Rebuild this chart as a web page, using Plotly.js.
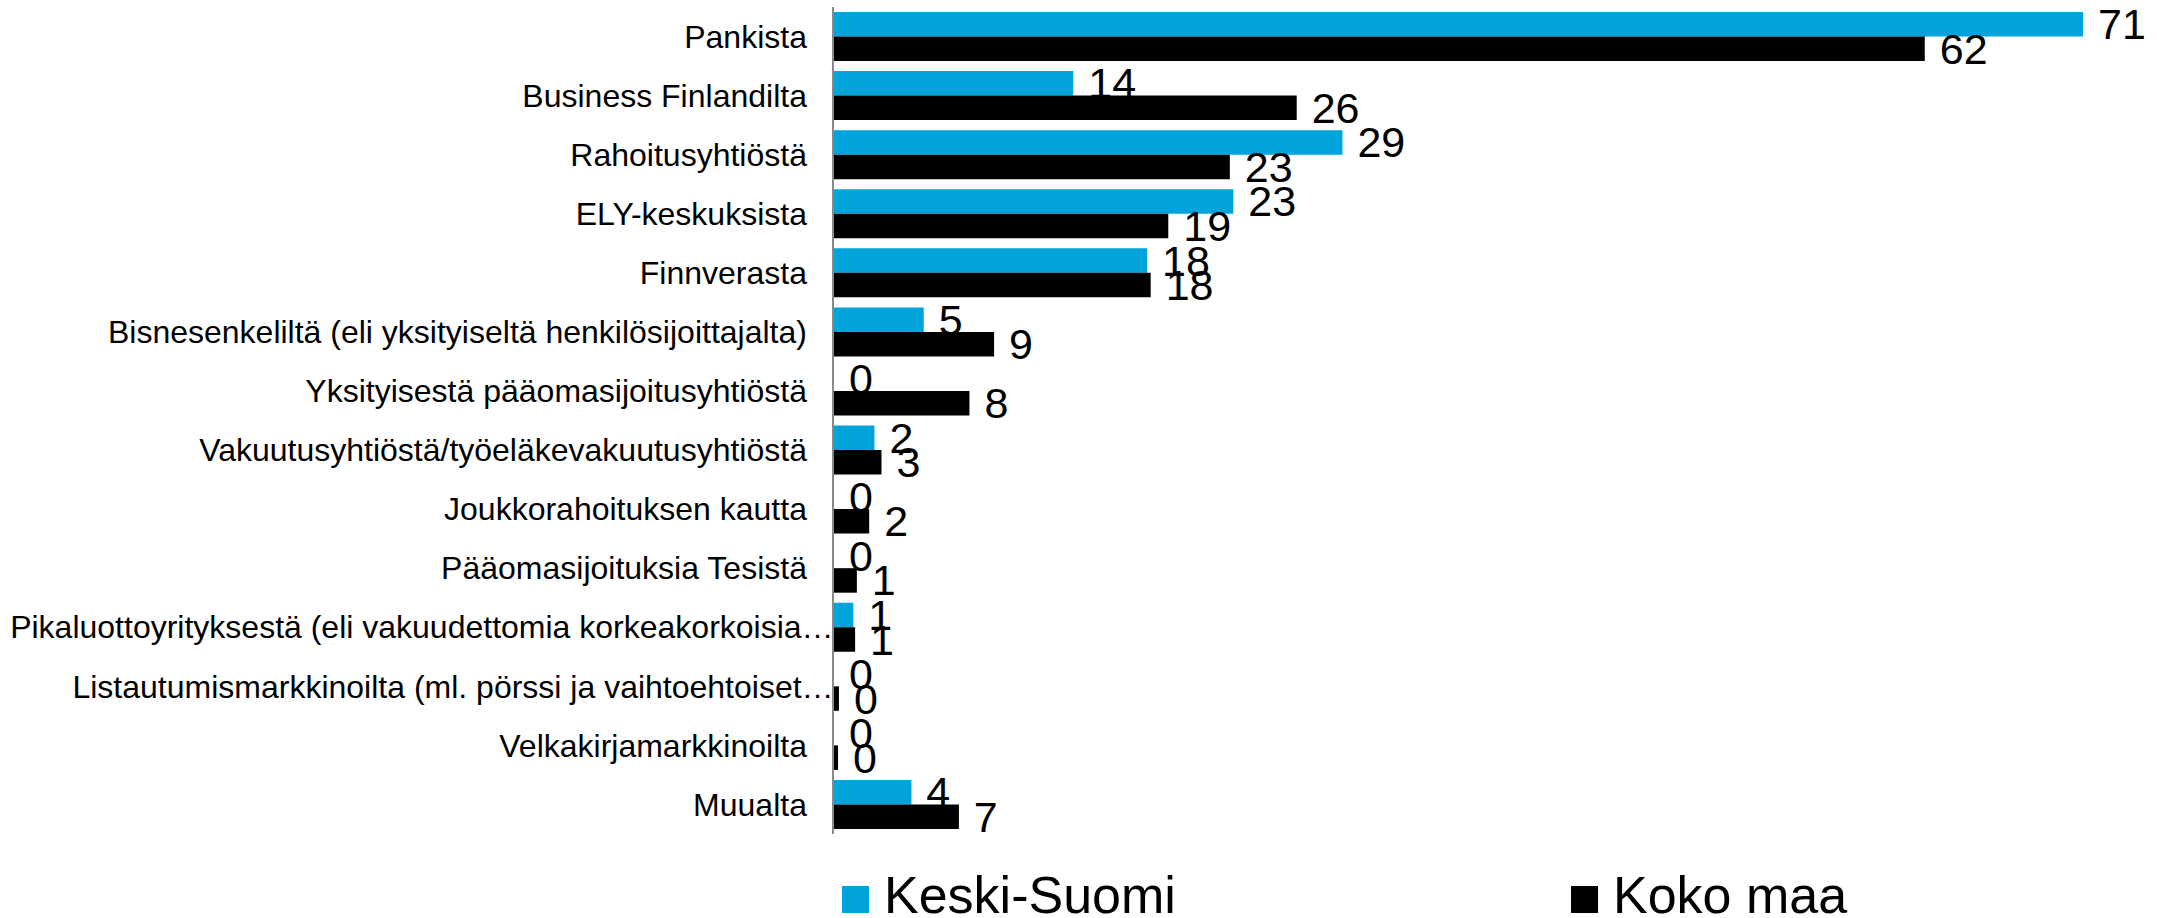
<!DOCTYPE html>
<html>
<head>
<meta charset="utf-8">
<script src="https://cdn.plot.ly/plotly-3.0.1.min.js"></script>
<style>html,body{margin:0;padding:0;background:#fff;}#chart{width:2157px;height:918px;}</style>
</head>
<body>
<div id="chart"></div>
<script>
const categories = [
  "Pankista",
  "Business Finlandilta",
  "Rahoitusyhtiöstä",
  "ELY-keskuksista",
  "Finnverasta",
  "Bisnesenkeliltä (eli yksityiseltä henkilösijoittajalta)",
  "Yksityisestä pääomasijoitusyhtiöstä",
  "Vakuutusyhtiöstä/työeläkevakuutusyhtiöstä",
  "Joukkorahoituksen kautta",
  "Pääomasijoituksia Tesistä",
  "Pikaluottoyrityksestä (eli vakuudettomia korkeakorkoisia…",
  "Listautumismarkkinoilta (ml. pörssi ja vaihtoehtoiset…",
  "Velkakirjamarkkinoilta",
  "Muualta"
];
const keskiSuomi = [71, 13.6, 28.9, 22.7, 17.8, 5.1, 0, 2.3, 0, 0, 1.1, 0, 0, 4.4];
const kokoMaa = [62, 26.3, 22.5, 19.0, 18.0, 9.1, 7.7, 2.7, 2.0, 1.3, 1.2, 0.28, 0.23, 7.1];
const seriesNames = ["Keski-Suomi", "Koko maa"];
const seriesColors = ["#00a3da", "#000000"];

const font = "Liberation Sans, Arial, sans-serif";
const W = 2157, H = 918, ML = 834, MT = 7, MB = 84, MR = 0;
const pw = W - ML - MR, ph = H - MT - MB;
function px2x(p){ return (p - ML) / pw; }
function px2y(p){ return (H - MB - p) / ph; }

// Excel-style: truncated labels (ending with an ellipsis) run up to the axis,
// the others keep a gap before the axis.
const NB = "\u00a0";
const tickText = categories.map(c => c.endsWith("…") ? c : c + NB + NB + NB);

const traces = [keskiSuomi, kokoMaa].map((vals, i) => ({
  type: "bar",
  orientation: "h",
  name: seriesNames[i],
  y: categories,
  x: vals,
  marker: {color: seriesColors[i], line: {width: 0}},
  texttemplate: NB + "%{x:.0f}",
  textposition: "outside",
  constraintext: "none",
  cliponaxis: false,
  textfont: {family: font, size: 43, color: "#000"},
  showlegend: false,
  hoverinfo: "x+y"
}));

const legendX = [842, 1571];
const shapes = [], annotations = [];
seriesNames.forEach((n, i) => {
  shapes.push({
    type: "rect", xref: "paper", yref: "paper",
    x0: px2x(legendX[i]), x1: px2x(legendX[i] + 27),
    y0: px2y(913), y1: px2y(886),
    fillcolor: seriesColors[i], line: {width: 0}
  });
  annotations.push({
    xref: "paper", yref: "paper",
    x: px2x(legendX[i] + 40), y: px2y(895),
    xanchor: "left", yanchor: "middle",
    text: n, showarrow: false,
    font: {family: font, size: 52, color: "#000"}
  });
});

const layout = {
  width: W, height: H,
  margin: {l: ML, r: MR, t: MT, b: MB, pad: 0},
  paper_bgcolor: "#fff", plot_bgcolor: "#fff",
  barmode: "group",
  bargap: 0.17,
  bargroupgap: 0,
  xaxis: {range: [0, 75.2], showgrid: false, zeroline: false, showline: false, showticklabels: false, ticks: ""},
  yaxis: {
    autorange: "reversed",
    showgrid: false, zeroline: false,
    showline: true, linecolor: "#898989", linewidth: 2,
    ticks: "", ticklabelstandoff: -8,
    tickmode: "array", tickvals: categories, ticktext: tickText,
    tickfont: {family: font, size: 32, color: "#000"},
    automargin: false
  },
  shapes: shapes,
  annotations: annotations,
  showlegend: false
};

Plotly.newPlot("chart", traces, layout, {displayModeBar: false, staticPlot: true});
</script>
</body>
</html>
